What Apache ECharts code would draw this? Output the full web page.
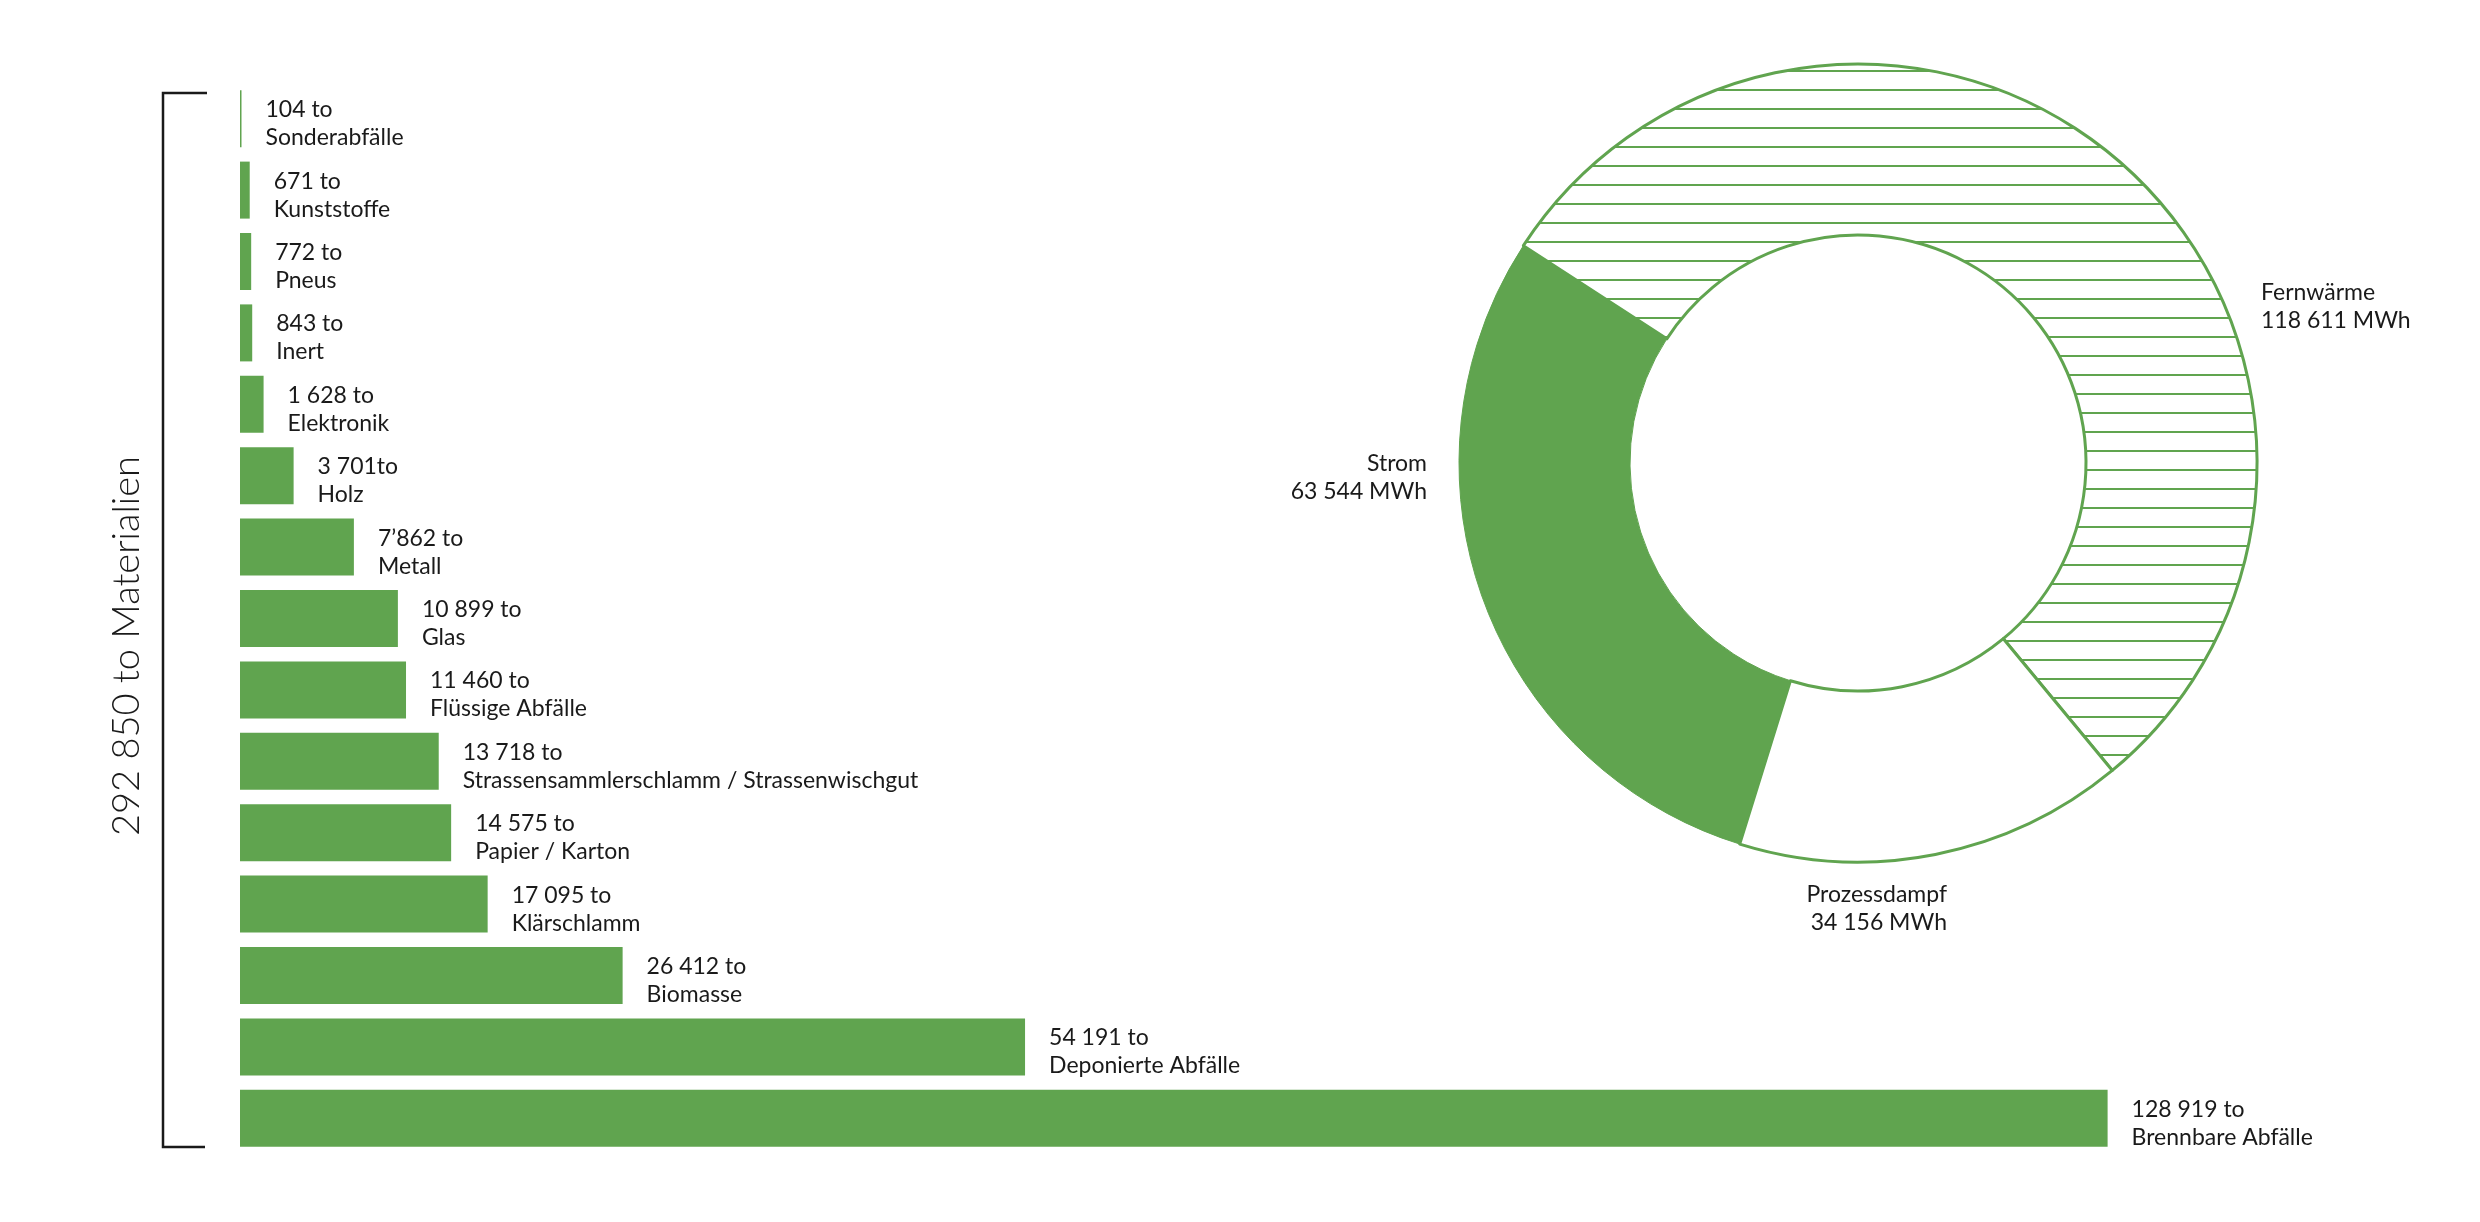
<!DOCTYPE html>
<html>
<head>
<meta charset="utf-8">
<title>Materialien und Energie</title>
<script src="https://cdn.jsdelivr.net/npm/echarts@6/dist/echarts.min.js"></script>
<style>
  html, body { margin: 0; padding: 0; background: #fff; }
  #chart { width: 2480px; height: 1222px; }
</style>
</head>
<body>
<div id="chart"></div>
<script>
// Materialien (to), top to bottom
var categories = ['Sonderabfälle', 'Kunststoffe', 'Pneus', 'Inert', 'Elektronik', 'Holz', 'Metall', 'Glas',
  'Flüssige Abfälle', 'Strassensammlerschlamm / Strassenwischgut', 'Papier / Karton', 'Klärschlamm',
  'Biomasse', 'Deponierte Abfälle', 'Brennbare Abfälle'];
var tonnes = [104, 671, 772, 843, 1628, 3701, 7862, 10899, 11460, 13718, 14575, 17095, 26412, 54191, 128919];
var tonneTexts = ['104 to', '671 to', '772 to', '843 to', '1 628 to', '3 701to', '7’862 to', '10 899 to',
  '11 460 to', '13 718 to', '14 575 to', '17 095 to', '26 412 to', '54 191 to', '128 919 to'];

// Energie (MWh), clockwise from the Strom/Fernwärme edge
var energyNames = ['Fernwärme', 'Prozessdampf', 'Strom'];
var energyMWh = [118611, 34156, 63544];

var GREEN = '#60a44f';
var INK = '#1a1a1a';
var FONT = 'Lato, "Open Sans", sans-serif';

function fmt(n) {
  return String(n).replace(/\B(?=(\d{3})+(?!\d))/g, ' ');
}

var total = tonnes.reduce(function (a, b) { return a + b; }, 0);

// horizontal hatch for Fernwärme
var hatch = document.createElement('canvas');
hatch.width = 8;
hatch.height = 19;
var hctx = hatch.getContext('2d');
hctx.fillStyle = '#ffffff';
hctx.fillRect(0, 0, 8, 19);
hctx.fillStyle = GREEN;
hctx.fillRect(0, 13, 8, 2);

var energyStyles = [
  { color: { image: hatch, repeat: 'repeat' }, borderColor: GREEN, borderWidth: 3 },
  { color: '#ffffff', borderColor: GREEN, borderWidth: 3 },
  { color: GREEN, borderColor: GREEN, borderWidth: 1 }
];

// where each donut label sits
var energyLabelPos = [
  { x: 2261, y: 307, align: 'left' },
  { x: 1947, y: 909, align: 'right' },
  { x: 1427, y: 478, align: 'right' }
];

var chart = echarts.init(document.getElementById('chart'));

var option = {
  backgroundColor: '#ffffff',
  animation: false,
  textStyle: { fontFamily: FONT },
  grid: { left: 240, right: 67, top: 83, bottom: 68 },
  xAxis: { type: 'value', min: 0, max: 150000, show: false },
  yAxis: {
    type: 'category',
    inverse: true,
    data: categories,
    axisLine: { show: false },
    axisTick: { show: false },
    axisLabel: { show: false }
  },
  series: [
    {
      type: 'bar',
      data: tonnes,
      barWidth: 57,
      itemStyle: { color: GREEN },
      label: {
        show: true,
        position: 'right',
        distance: 24,
        offset: [0, 5],
        align: 'left',
        color: INK,
        fontFamily: FONT,
        fontSize: 23,
        lineHeight: 28,
        formatter: function (p) { return tonneTexts[p.dataIndex] + '\n' + p.name; }
      },
      emphasis: { disabled: true }
    },
    {
      type: 'pie',
      center: [1858, 463],
      radius: [228, 399],
      startAngle: 147,
      clockwise: true,
      avoidLabelOverlap: false,
      data: energyNames.map(function (n, i) {
        return { name: n, value: energyMWh[i], itemStyle: energyStyles[i] };
      }),
      label: {
        show: true,
        position: 'outside',
        color: INK,
        fontFamily: FONT,
        fontSize: 23,
        lineHeight: 28,
        formatter: function (p) { return p.name + '\n' + fmt(p.value) + ' MWh'; }
      },
      labelLine: { show: false },
      labelLayout: function (p) {
        var pos = energyLabelPos[p.dataIndex];
        return { x: pos.x, y: pos.y, align: pos.align, verticalAlign: 'middle' };
      },
      emphasis: { disabled: true }
    }
  ],
  graphic: [
    {
      type: 'polyline',
      shape: { points: [[207, 93], [163, 93], [163, 1147], [205, 1147]] },
      style: { stroke: INK, lineWidth: 2.5, fill: null }
    },
    {
      type: 'text',
      x: 127,
      y: 646,
      rotation: Math.PI / 2,
      style: {
        text: fmt(total) + ' to Materialien',
        fill: INK,
        font: '300 38px ' + FONT,
        align: 'center',
        verticalAlign: 'middle'
      }
    }
  ]
};

chart.setOption(option);
</script>
</body>
</html>
